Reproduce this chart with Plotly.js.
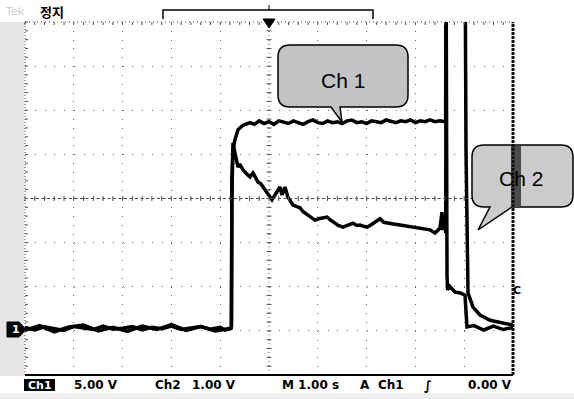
<!DOCTYPE html>
<html><head><meta charset="utf-8">
<script src="https://cdn.plot.ly/plotly-3.0.1.min.js"></script>
<style>html,body{margin:0;padding:0;background:#fff}#chart{width:574px;height:399px}</style>
</head><body><div id="chart"></div>
<script>
// ---- data (time in s, 1 s/div, trigger at centre; Ch1 5 V/div, Ch2 1 V/div) ----
const ch1Time = [-5.0,-4.8,-4.6,-4.4,-4.2,-4.0,-3.8,-3.6,-3.4,-3.2,-3.0,-2.8,-2.6,-2.4,-2.2,-2.0,-1.8,-1.6,-1.4,-1.2,-1.0,-0.9,-0.78,
  -0.77,-0.76,-0.738,-0.70,-0.635,-0.533,-0.389,
  -0.3,-0.2,-0.1,0.0,0.1,0.2,0.3,0.4,0.5,0.6,0.7,0.8,0.9,1.0,1.1,1.2,1.3,1.4,1.5,1.6,1.7,1.8,1.9,2.0,2.1,2.2,2.3,2.4,2.5,2.6,2.7,2.8,2.9,3.0,3.1,3.2,3.3,3.4,3.5,3.62,
  3.627,4.016,4.037,4.057,4.078,4.18,4.324,4.529,4.795,5.0];
const ch1Volts = [0.1,-0.2,0.15,0.0,-0.25,0.2,0.05,-0.15,0.25,-0.1,0.0,0.2,-0.2,0.1,-0.05,0.25,-0.15,0.05,0.2,-0.1,0.1,-0.2,0.0,
  0.2,17.0,20.2,21.3,22.5,23.0,23.3,
  23.1,23.5,23.2,23.4,23.1,23.5,23.3,23.2,23.5,23.3,23.1,23.4,23.6,23.3,23.2,23.5,23.3,23.4,23.2,23.5,23.6,23.3,23.4,23.2,23.5,23.4,23.3,23.6,23.4,23.3,23.5,23.4,23.6,23.3,23.5,23.4,23.6,23.4,23.5,23.4,
  45,45,20.2,6.9,4.0,2.4,1.5,0.9,0.6,0.35];
const ch2Time = [-5.0,-4.7,-4.4,-4.1,-3.8,-3.5,-3.2,-2.9,-2.6,-2.3,-2.0,-1.7,-1.4,-1.1,-0.78,
  -0.77,-0.76,-0.738,-0.697,-0.66,-0.635,-0.6,-0.533,-0.46,-0.389,-0.328,-0.28,-0.225,-0.17,-0.123,-0.07,-0.02,
  0.061,0.11,0.164,0.225,0.266,0.328,0.389,0.44,0.492,0.56,0.635,0.70,0.779,0.86,0.943,1.02,1.107,1.189,1.25,1.311,1.42,1.516,1.62,1.721,1.80,1.865,1.94,2.008,2.07,2.131,2.20,2.275,2.35,2.418,2.55,2.684,2.85,3.033,3.17,3.299,3.402,3.504,3.545,3.566,3.607,3.622,
  3.627,3.632,3.648,3.66,3.70,3.811,3.92,4.016,4.057,4.2,4.4,4.6,4.8,5.0];
const ch2Volts = [-0.05,0.06,-0.08,0.03,0.07,-0.06,0.02,-0.07,0.05,-0.03,0.08,-0.05,0.04,-0.06,0.0,
  0.05,3.0,4.20,3.97,3.80,3.65,3.72,3.59,3.50,3.43,3.52,3.40,3.31,3.28,3.20,3.12,3.06,
  2.91,3.0,3.09,3.20,3.02,3.20,2.97,2.88,2.79,2.76,2.73,2.64,2.57,2.50,2.45,2.48,2.50,2.52,2.46,2.41,2.33,2.29,2.34,2.38,2.33,2.34,2.31,2.29,2.33,2.38,2.42,2.48,2.40,2.38,2.36,2.34,2.31,2.29,2.27,2.23,2.16,2.27,2.63,2.22,2.56,2.16,
  9.0,1.77,1.2,0.87,0.95,0.82,0.80,0.75,0.03,0.06,-0.04,0.05,-0.03,0.02];
const bottomLabels = ["5.00 V","Ch2","1.00 V","M 1.00 s","A","Ch1","\u222B","0.00 V"];
const calloutLabels = ["Ch 1","Ch 2"];

// ---- pixel helpers (plot area 25..513 x 22..375) ----
const L=25,R=513,T=22,B=375,W=R-L,H=B-T;
const px=x=>(x-L)/W, py=y=>(B-y)/H;
const P=(x,y)=>px(x).toFixed(5)+','+py(y).toFixed(5);

const shapes=[];
// stippled side strips
shapes.push({type:'rect',xref:'paper',yref:'paper',x0:px(0),x1:px(24),y0:py(376),y1:py(22),fillcolor:'#e6e6e6',line:{width:0},layer:'below'});
shapes.push({type:'rect',xref:'paper',yref:'paper',x0:px(0),x1:px(574),y0:py(399),y1:py(393),fillcolor:'#efefef',line:{width:0},layer:'below'});
// centre crosshair
shapes.push({type:'line',xref:'paper',yref:'paper',x0:0,x1:1,y0:0.5,y1:0.5,line:{color:'#444',width:1,dash:'3px,2.5px'}});
shapes.push({type:'line',xref:'paper',yref:'paper',x0:0.5,x1:0.5,y0:0,y1:1,line:{color:'#555',width:1,dash:'1px,3.4px'}});
// minor ticks along crosshair and borders
let tp='';
for(let x=L;x<=R+0.1;x+=W/50){tp+='M'+P(x,196)+'L'+P(x,201)+' ';tp+='M'+P(x,22)+'L'+P(x,25)+' ';}
for(let y=T;y<=B+0.1;y+=H/40){tp+='M'+P(266.5,y)+'L'+P(271.5,y)+' ';tp+='M'+P(25,y)+'L'+P(28,y)+' ';}
shapes.push({type:'path',xref:'paper',yref:'paper',path:tp,line:{color:'#555',width:1}});
// borders
shapes.push({type:'line',xref:'paper',yref:'paper',x0:0,x1:1,y0:1,y1:1,line:{color:'#444',width:1,dash:'1px,3px'}});
shapes.push({type:'line',xref:'paper',yref:'paper',x0:0,x1:0,y0:0,y1:1,line:{color:'#444',width:1,dash:'1px,2px'}});
shapes.push({type:'line',xref:'paper',yref:'paper',x0:0,x1:1,y0:0,y1:0,line:{color:'#000',width:2}});
// callouts
shapes.push({type:'path',xref:'paper',yref:'paper',layer:'above',fillcolor:'#c3c3c3',line:{color:'#000',width:1.5},
  path:'M'+P(290,45)+'L'+P(396,45)+'Q'+P(408,45)+' '+P(408,57)+'L'+P(408,95)+'Q'+P(408,107)+' '+P(396,107)+'L'+P(340,107)+'L'+P(342,122)+'L'+P(331,107)+'L'+P(290,107)+'Q'+P(278,107)+' '+P(278,95)+'L'+P(278,57)+'Q'+P(278,45)+' '+P(290,45)+'Z'});
shapes.push({type:'path',xref:'paper',yref:'paper',layer:'above',fillcolor:'#cbcbcb',line:{color:'#000',width:1.5},
  path:'M'+P(484,145)+'L'+P(561,145)+'Q'+P(573,145)+' '+P(573,157)+'L'+P(573,195)+'Q'+P(573,207)+' '+P(561,207)+'L'+P(512,207)+'L'+P(478,230)+'L'+P(490,207)+'L'+P(484,207)+'Q'+P(472,207)+' '+P(472,195)+'L'+P(472,157)+'Q'+P(472,145)+' '+P(484,145)+'Z'});
shapes.push({type:'rect',xref:'paper',yref:'paper',layer:'above',x0:px(511),x1:px(521),y0:py(207),y1:py(146),fillcolor:'#4a4a4a',line:{width:0}});
// right border (thick stippled)
shapes.push({type:'line',xref:'paper',yref:'paper',layer:'above',x0:1,x1:1,y0:0,y1:1,line:{color:'#111',width:3,dash:'3px,1px'}});
// top record bracket and trigger marker
shapes.push({type:'path',xref:'paper',yref:'paper',path:'M'+P(163,19)+'L'+P(163,10)+'L'+P(373,10)+'L'+P(373,19),line:{color:'#000',width:1.5}});
shapes.push({type:'line',xref:'paper',yref:'paper',x0:px(269),x1:px(269),y0:py(10),y1:py(5),line:{color:'#000',width:1}});
shapes.push({type:'path',xref:'paper',yref:'paper',path:'M'+P(263,19)+'L'+P(275,19)+'L'+P(269,28)+'Z',fillcolor:'#000',line:{color:'#000',width:1}});
// ground marker of Ch1
shapes.push({type:'path',xref:'paper',yref:'paper',path:'M'+P(7,322)+'L'+P(19,322)+'L'+P(26,329.5)+'L'+P(19,337)+'L'+P(7,337)+'Z',fillcolor:'#000',line:{color:'#000',width:1}});
// Ch1 label box at bottom
shapes.push({type:'rect',xref:'paper',yref:'paper',x0:px(24),x1:px(55),y0:py(391),y1:py(379),fillcolor:'#000',line:{width:0}});

const F='DejaVu Sans, Verdana, sans-serif';
const ann=(t,x,y,o)=>Object.assign({text:t,xref:'paper',yref:'paper',x:px(x),y:py(y),showarrow:false,xanchor:'left',yanchor:'middle',
  font:{family:F,size:12,color:'#000',weight:'bold'}},o||{});
const annotations=[
  ann('Tek',3,12,{font:{family:F,size:11,color:'#cfcfcf'}}),
  ann('정지',38,12,{font:{family:'Noto Sans CJK KR',size:13,color:'#000',weight:'bold'}}),
  ann('1',16,329.5,{xanchor:'center',font:{family:F,size:11,color:'#fff',weight:'bold'}}),
  ann('Ch1',39.5,385,{xanchor:'center',font:{family:F,size:11,color:'#fff',weight:'bold'}}),
  ann(bottomLabels[0],72,385),
  ann(bottomLabels[1],153,385),
  ann(bottomLabels[2],190,385),
  ann(bottomLabels[3],280,385),
  ann(bottomLabels[4],358,385),
  ann(bottomLabels[5],376,385),
  ann(bottomLabels[6],422,385,{font:{family:F,size:13,color:'#000',weight:'bold'}}),
  ann(bottomLabels[7],514,385,{xanchor:'right'}),
  ann('C',517,290,{xanchor:'center',font:{family:F,size:11,color:'#000',weight:'bold'}}),
  ann(calloutLabels[0],343,80,{xanchor:'center',font:{family:'Liberation Sans, Arial, sans-serif',size:21,color:'#000'}}),
  ann(calloutLabels[1],521,178,{xanchor:'center',font:{family:'Liberation Sans, Arial, sans-serif',size:21,color:'#000'}})
];

const traces=[
  {x:ch2Time,y:ch2Volts,yaxis:'y2',type:'scatter',mode:'lines',line:{color:'#000',width:3.5},name:'Ch2',hoverinfo:'skip'},
  {x:ch1Time,y:ch1Volts,type:'scatter',mode:'lines',line:{color:'#000',width:3.5},name:'Ch1',hoverinfo:'skip'}
];
const layout={
  width:574,height:399,autosize:false,showlegend:false,
  paper_bgcolor:'#fff',plot_bgcolor:'#fff',
  margin:{l:L,r:574-R,t:T,b:399-B,pad:0},
  xaxis:{range:[-5,5],tick0:0,dtick:1,showgrid:true,gridcolor:'#666',gridwidth:1,griddash:'1px,7.82px',
    zeroline:false,showticklabels:false,ticks:'',showline:false,fixedrange:true},
  yaxis:{range:[-5.3,34.7],tick0:-0.3,dtick:5,showgrid:true,gridcolor:'#666',gridwidth:1,griddash:'1px,8.76px',
    zeroline:false,showticklabels:false,ticks:'',showline:false,fixedrange:true},
  yaxis2:{range:[-1.06,6.94],overlaying:'y',showgrid:false,zeroline:false,showticklabels:false,ticks:'',fixedrange:true},
  shapes:shapes,annotations:annotations
};
Plotly.newPlot('chart',traces,layout,{staticPlot:true,displayModeBar:false});
</script></body></html>
